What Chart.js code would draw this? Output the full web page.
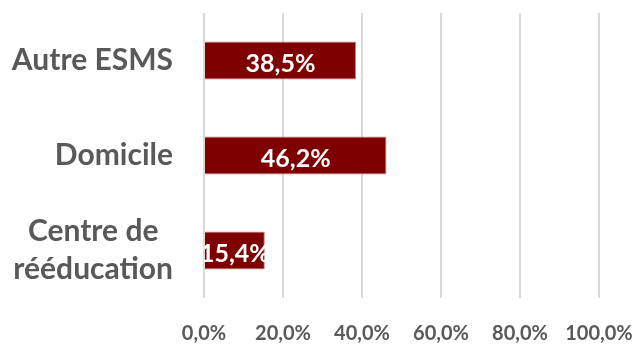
<!DOCTYPE html>
<html>
<head>
<meta charset="utf-8">
<script src="https://cdn.jsdelivr.net/npm/chart.js@4"></script>
<style>
  body { margin: 0; background: #fff; }
  #wrap { width: 637px; height: 344px; }
</style>
</head>
<body>
<div id="wrap"><canvas id="chart"></canvas></div>
<script>
const categories = ['Autre ESMS', 'Domicile', ['Centre de', 'rééducation']];
const values = [38.5, 46.2, 15.4];
const ticks = [0, 20, 40, 60, 80, 100];

const pct = (v) => v.toFixed(1).replace('.', ',') + '%';

// labels blancs au centre des barres, coupés au bord du graphique
const barLabels = {
  id: 'barLabels',
  afterDatasetsDraw(chart) {
    const ctx = chart.ctx;
    const area = chart.chartArea;
    ctx.save();
    ctx.beginPath();
    ctx.rect(area.left, area.top, area.right - area.left, area.bottom - area.top);
    ctx.clip();
    ctx.fillStyle = '#ffffff';
    ctx.font = 'bold 25px Lato';
    ctx.textAlign = 'center';
    ctx.textBaseline = 'middle';
    chart.getDatasetMeta(0).data.forEach((bar, i) => {
      ctx.fillText(pct(values[i]), (bar.x + bar.base) / 2, bar.y + 3);
    });
    ctx.restore();
  }
};

// catégories : bloc aligné à droite, lignes centrées entre elles (comme Excel)
const catLabels = {
  id: 'catLabels',
  afterDraw(chart) {
    const ctx = chart.ctx;
    const y = chart.scales.y;
    const right = chart.chartArea.left - 31;
    const lh = 38;
    ctx.save();
    ctx.fillStyle = '#595959';
    ctx.font = 'bold 30px Lato';
    ctx.textAlign = 'center';
    ctx.textBaseline = 'middle';
    categories.forEach((cat, i) => {
      const lines = Array.isArray(cat) ? cat : [cat];
      const w = Math.max(...lines.map((l) => ctx.measureText(l).width));
      const py = y.getPixelForValue(i);
      lines.forEach((l, j) => {
        ctx.fillText(l, right - w / 2, py + (j - (lines.length - 1) / 2) * lh);
      });
    });
    ctx.restore();
  }
};

new Chart(document.getElementById('chart'), {
  type: 'bar',
  data: {
    labels: categories,
    datasets: [{
      data: values,
      backgroundColor: '#7f0000',
      borderColor: '#c98080',
      borderWidth: 1,
      barPercentage: 0.4,
      categoryPercentage: 1
    }]
  },
  options: {
    indexAxis: 'y',
    responsive: true,
    maintainAspectRatio: false,
    animation: false,
    layout: { padding: { top: 13, right: 38, left: 0, bottom: 0 } },
    plugins: {
      legend: { display: false },
      tooltip: { enabled: false }
    },
    scales: {
      x: {
        min: 0,
        max: 100,
        afterBuildTicks: (scale) => { scale.ticks = ticks.map((v) => ({ value: v })); },
        grid: { color: '#d9d9d9', lineWidth: 2, drawTicks: false },
        border: { display: false },
        afterFit: (scale) => {
          scale.height = 46;
          scale.paddingLeft = 0;
          scale.paddingRight = 0;
        },
        ticks: {
          padding: 24,
          color: '#595959',
          font: { family: 'Lato', weight: 'bold', size: 20 },
          callback: (v) => pct(v)
        }
      },
      y: {
        grid: { display: false, drawTicks: false },
        border: { display: false },
        afterFit: (scale) => {
          scale.width = 204;
          scale.paddingTop = 0;
          scale.paddingBottom = 0;
        },
        ticks: { display: false }
      }
    }
  },
  plugins: [barLabels, catLabels]
});
</script>
</body>
</html>
